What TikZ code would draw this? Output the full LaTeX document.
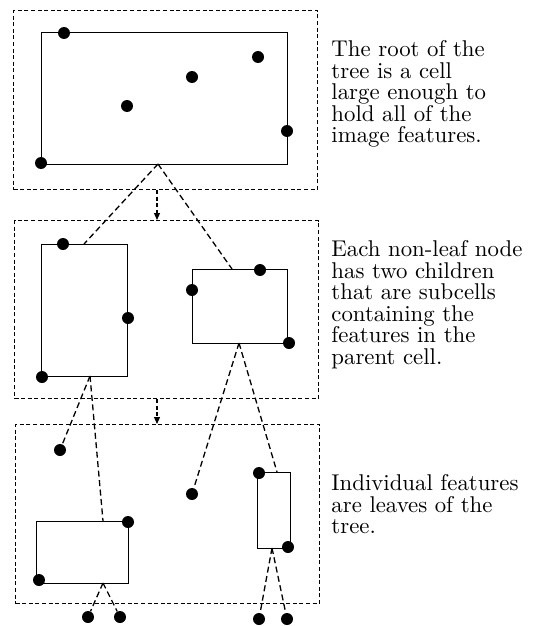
\documentclass[tikz,border=0pt]{standalone}
\usetikzlibrary{arrows.meta}
\begin{document}
\begin{tikzpicture}[x=1pt,y=-1pt,
  dot/.style={circle,fill=black,inner sep=0,minimum size=12pt},
  cell/.style={draw,line width=1.3pt,inner sep=0,anchor=north west},
  frame/.style={draw,line width=1.2pt,dash pattern=on 4pt off 2.6pt,inner sep=0,anchor=north west},
  link/.style={line width=1.3pt,dash pattern=on 6pt off 3.5pt},
  down/.style={line width=1.2pt,dash pattern=on 4pt off 2.6pt,-{Triangle[length=7pt,width=6pt]}},
  caption/.style={anchor=north west,inner sep=0,align=left,font=\fontsize{10}{9.43}\selectfont,scale=2.28,transform shape}]
\useasboundingbox (0,0) rectangle (533,626);
% frames
\node[frame,minimum width=304pt,minimum height=179pt] (f1) at (13,10) {};
\node[frame,minimum width=304pt,minimum height=178pt] (f2) at (14,220) {};
\node[frame,minimum width=304pt,minimum height=179pt] (f3) at (15,424) {};
% cells
\node[cell,minimum width=246pt,minimum height=132pt] (root) at (41,32) {};
\node[cell,minimum width=86pt,minimum height=132pt] (l1) at (41,244) {};
\node[cell,minimum width=95pt,minimum height=74pt] (r1) at (192,269) {};
\node[cell,minimum width=92pt,minimum height=62pt] (bl) at (36,521) {};
\node[cell,minimum width=33pt,minimum height=76pt] (r2) at (257,472) {};
% dots level 1
\node[dot] (a1) at (64,33) {};
\node[dot] (a2) at (258,57) {};
\node[dot] (a3) at (192,77) {};
\node[dot] (a4) at (127,106) {};
\node[dot] (a5) at (287,131) {};
\node[dot] (a6) at (41,163) {};
% dots level 2
\node[dot] (b1) at (63,244) {};
\node[dot] (b2) at (128,318) {};
\node[dot] (b3) at (42,377) {};
\node[dot] (b4) at (260,270) {};
\node[dot] (b5) at (192,290) {};
\node[dot] (b6) at (289,343) {};
% dots level 3
\node[dot] (c1) at (60,450) {};
\node[dot] (c2) at (128,522) {};
\node[dot] (c3) at (39,580) {};
\node[dot] (c4) at (192,494) {};
\node[dot] (c5) at (259,473) {};
\node[dot] (c6) at (288,547) {};
% leaves
\node[dot] (e1) at (88,617) {};
\node[dot] (e2) at (120,617) {};
\node[dot] (e3) at (259,619) {};
\node[dot] (e4) at (287,619) {};
% attachment points
\coordinate (p0) at (158,164);
\coordinate (pl1t) at (84,244);
\coordinate (pr1t) at (232,269);
\coordinate (pl1b) at (90,376);
\coordinate (pblt) at (103,521);
\coordinate (pr1b) at (239,343);
\coordinate (pr2t) at (277,472);
\coordinate (pblb) at (103,583);
\coordinate (pr2b) at (272,548);
\coordinate (s1) at (157,190);
\coordinate (s1e) at (157,220);
\coordinate (s2) at (157,399);
\coordinate (s2e) at (157,424);
% connectors
\draw[link] (p0) -- (pl1t);
\draw[link] (p0) -- (pr1t);
\draw[link] (pl1b) -- (c1);
\draw[link] (pl1b) -- (pblt);
\draw[link] (pr1b) -- (c4);
\draw[link] (pr1b) -- (pr2t);
\draw[link] (pblb) -- (e1);
\draw[link] (pblb) -- (e2);
\draw[link] (pr2b) -- (e3);
\draw[link] (pr2b) -- (e4);
\draw[down] (s1) -- (s1e);
\draw[down] (s2) -- (s2e);
% captions
\node[caption] (t1) at (331,40) {The root of the\\tree is a cell\\large enough to\\hold all of the\\image features.};
\node[caption] (t2) at (331,240) {Each non-leaf node\\has two children\\that are subcells\\containing the\\features in the\\parent cell.};
\node[caption] (t3) at (331,474) {Individual features\\are leaves of the\\tree.};
\end{tikzpicture}
\end{document}
